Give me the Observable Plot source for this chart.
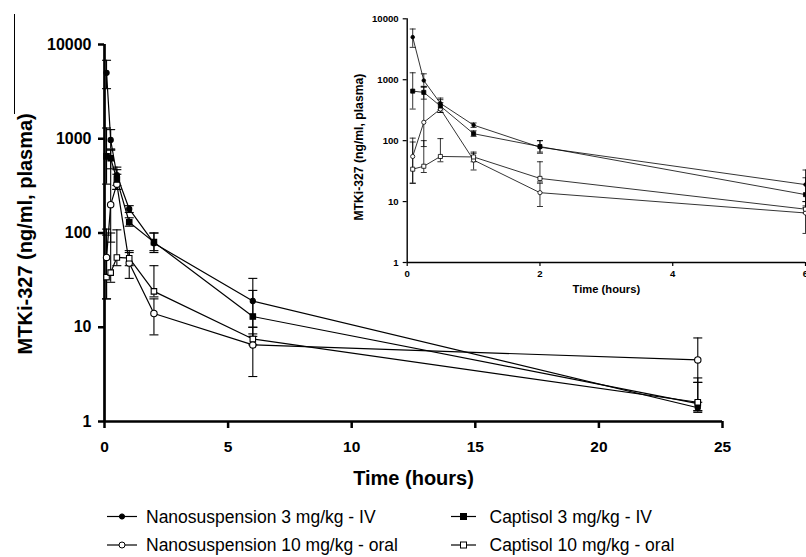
<!DOCTYPE html>
<html><head><meta charset="utf-8">
<script src="https://cdn.jsdelivr.net/npm/d3@7"></script>
<script src="https://cdn.jsdelivr.net/npm/@observablehq/plot@0.6"></script>
<style>
html,body{margin:0;padding:0;background:#fff;}
#wrap{position:relative;width:806px;height:557px;overflow:hidden;font-family:"Liberation Sans",Arial,Helvetica,sans-serif;}
#main{position:absolute;left:0;top:0;width:806px;}
#inset{position:absolute;left:340px;top:0;width:480px;}
#legend{position:absolute;left:0;top:490px;width:806px;}
#edge{position:absolute;left:14px;top:14px;width:1px;height:100px;background:#000;}
svg{max-width:none !important;}
</style></head><body>
<div id="wrap"><div id="edge"></div><div id="main"></div><div id="inset"></div><div id="legend"></div></div>
<script>
const FONT = '"Liberation Sans", Arial, Helvetica, sans-serif';

// ---- data ----
const times = [0.083, 0.25, 0.5, 1, 2, 6, 24];
const seriesNames = ["Nanosuspension 3 mg/kg - IV", "Nanosuspension 10 mg/kg - oral", "Captisol 3 mg/kg - IV", "Captisol 10 mg/kg - oral"];
const nanoIV     = [5000, 970, 410, 180, 78, 19, 1.4];
const nanoIVLo   = [3400, 780, 320, 165, 62, 10, 1.25];
const nanoIVHi   = [6800, 1250, 500, 195, 100, 33, 1.6];
const nanoOral   = [55, 200, 330, 48, 14, 6.5, 4.5];
const nanoOralLo = [20, 80, 290, 33, 8.3, 3.0, 2.6];
const nanoOralHi = [110, 760, 420, 62, 20, 10, 7.7];
const capIV      = [650, 620, 370, 130, 80, 13, 1.55];
const capIVLo    = [330, 480, 290, 118, 65, 8, 1.3];
const capIVHi    = [1300, 760, 470, 145, 100, 24.6, 2.9];
const capOral    = [34, 38, 55, 54, 24, 7.5, 1.6];
const capOralLo  = [20, 30, 45, 45, 21, 6.5, 1.3];
const capOralHi  = [95, 100, 108, 65, 45, 8.5, 2.6];
const xTicks = [0, 5, 10, 15, 20, 25];
const yTicks = [1, 10, 100, 1000, 10000];
const insetXTicks = [0, 2, 4, 6];
const yTitle = "MTKi-327 (ng/ml, plasma)";
const xTitle = "Time (hours)";

const seriesDefs = [
  {name: seriesNames[0], mean: nanoIV, lo: nanoIVLo, hi: nanoIVHi, symbol: "circle", fill: "black"},
  {name: seriesNames[1], mean: nanoOral, lo: nanoOralLo, hi: nanoOralHi, symbol: "circle", fill: "white"},
  {name: seriesNames[2], mean: capIV, lo: capIVLo, hi: capIVHi, symbol: "square", fill: "black"},
  {name: seriesNames[3], mean: capOral, lo: capOralLo, hi: capOralHi, symbol: "square", fill: "white"}
];
const rows = seriesDefs.flatMap(s => times.map((t, i) => ({series: s.name, t, v: s.mean[i], lo: s.lo[i], hi: s.hi[i]})));

const capSymbol = {draw(ctx, size) { const h = Math.sqrt(size / Math.PI); ctx.moveTo(-h, 0); ctx.lineTo(h, 0); }};

function dataMarks(data, o) {
  const marks = [
    Plot.ruleX(data, {x: "t", y1: "lo", y2: "hi", stroke: "black", strokeWidth: o.ew}),
    Plot.dot(data, {x: "t", y: "lo", symbol: capSymbol, r: o.cap, stroke: "black", fill: "none", strokeWidth: o.ew}),
    Plot.dot(data, {x: "t", y: "hi", symbol: capSymbol, r: o.cap, stroke: "black", fill: "none", strokeWidth: o.ew}),
    Plot.line(data, {x: "t", y: "v", z: "series", stroke: "black", strokeWidth: o.lw})
  ];
  for (const s of seriesDefs) {
    const d = data.filter(r => r.series === s.name);
    const r = s.symbol === "square" ? o.sq : (s.fill === "black" ? o.cf : o.co);
    marks.push(Plot.dot(d, {x: "t", y: "v", symbol: s.symbol, r, fill: s.fill, stroke: "black", strokeWidth: o.mw}));
  }
  return marks;
}

// ---- main chart ----
const main = Plot.plot({
  width: 806, height: 490,
  marginLeft: 104, marginRight: 84, marginTop: 44, marginBottom: 69,
  style: {fontFamily: FONT, background: "transparent", color: "black", overflow: "visible", maxWidth: "none"},
  x: {domain: [0, 25]},
  y: {type: "log", domain: [1, 10000]},
  marks: [
    Plot.axisY({ticks: yTicks, tickFormat: d => String(d), tickSize: 6, tickPadding: 7, strokeWidth: 2.5, fontSize: 16, fontWeight: "bold", label: null}),
    Plot.axisX({ticks: xTicks, tickFormat: d => String(d), tickSize: 7, tickPadding: 12, strokeWidth: 2.5, fontSize: 15.5, fontWeight: "bold", label: null}),
    Plot.ruleX([0], {y1: 1, y2: 10000, stroke: "black", strokeWidth: 2.7}),
    Plot.ruleY([1], {x1: 0, x2: 25, stroke: "black", strokeWidth: 2.7}),
    ...dataMarks(rows, {ew: 1.1, cap: 4.5, lw: 1.2, sq: 3.1, cf: 2.6, co: 3.2, mw: 1.1}),
    Plot.text([yTitle], {frameAnchor: "left", rotate: -90, lineAnchor: "bottom", textAnchor: "middle", dx: -72.7, dy: 0.8, fontSize: 20, fontWeight: "bold"}),
    Plot.text([xTitle], {frameAnchor: "bottom", lineAnchor: "bottom", textAnchor: "middle", dy: 63, fontSize: 20, fontWeight: "bold"})
  ]
});
document.getElementById("main").append(main);

// ---- inset ----
const insetRows = rows.filter(r => r.t <= 6);
const inset = Plot.plot({
  width: 480, height: 300,
  marginLeft: 66.7, marginRight: 15, marginTop: 18.3, marginBottom: 38,
  style: {fontFamily: FONT, background: "transparent", color: "black", overflow: "visible", maxWidth: "none"},
  x: {domain: [0, 6]},
  y: {type: "log", domain: [1, 10000]},
  marks: [
    Plot.axisY({ticks: yTicks, tickFormat: d => String(d), tickSize: 4, tickPadding: 4.5, strokeWidth: 1.2, fontSize: 9.6, fontWeight: "bold", label: null}),
    Plot.axisX({ticks: insetXTicks, tickFormat: d => String(d), tickSize: 4, tickPadding: 4, strokeWidth: 1.2, fontSize: 9.6, fontWeight: "bold", label: null}),
    Plot.ruleX([0], {y1: 1, y2: 10000, stroke: "black", strokeWidth: 1.4}),
    Plot.ruleY([1], {x1: 0, x2: 6, stroke: "black", strokeWidth: 1.4}),
    ...dataMarks(insetRows, {ew: 0.8, cap: 3, lw: 0.8, sq: 2.3, cf: 1.8, co: 2.1, mw: 0.8}),
    Plot.text([yTitle], {frameAnchor: "left", rotate: -90, lineAnchor: "bottom", textAnchor: "middle", dx: -44.3, dy: 6.5, fontSize: 12.2, fontWeight: "bold"}),
    Plot.text([xTitle], {frameAnchor: "bottom", lineAnchor: "bottom", textAnchor: "middle", dy: 30.7, fontSize: 11.2, fontWeight: "bold"})
  ]
});
document.getElementById("inset").append(inset);

// ---- legend ----
const legendItems = [
  {def: seriesDefs[0], x0: 107, x1: 137, tx: 146, cy: 26.5},
  {def: seriesDefs[1], x0: 107, x1: 137, tx: 146, cy: 55},
  {def: seriesDefs[2], x0: 451, x1: 476, tx: 489.5, cy: 26.5},
  {def: seriesDefs[3], x0: 451, x1: 476, tx: 489.5, cy: 55}
];
const lsvg = d3.create("svg").attr("width", 806).attr("height", 67).style("display", "block");
for (const it of legendItems) {
  const g = lsvg.append("g");
  g.append("line").attr("x1", it.x0).attr("x2", it.x1).attr("y1", it.cy).attr("y2", it.cy).attr("stroke", "black").attr("stroke-width", 1.2);
  const cx = (it.x0 + it.x1) / 2;
  if (it.def.symbol === "circle") {
    g.append("circle").attr("cx", cx).attr("cy", it.cy).attr("r", it.def.fill === "black" ? 2.6 : 3).attr("fill", it.def.fill).attr("stroke", "black").attr("stroke-width", 1);
  } else {
    g.append("rect").attr("x", cx - 3).attr("y", it.cy - 3).attr("width", 6).attr("height", 6).attr("fill", it.def.fill).attr("stroke", "black").attr("stroke-width", 1);
  }
  g.append("text").attr("x", it.tx).attr("y", it.cy + 6.3).attr("font-family", FONT).attr("font-size", 17.5).attr("fill", "black").text(it.def.name);
}
document.getElementById("legend").append(lsvg.node());
</script>
</body></html>
